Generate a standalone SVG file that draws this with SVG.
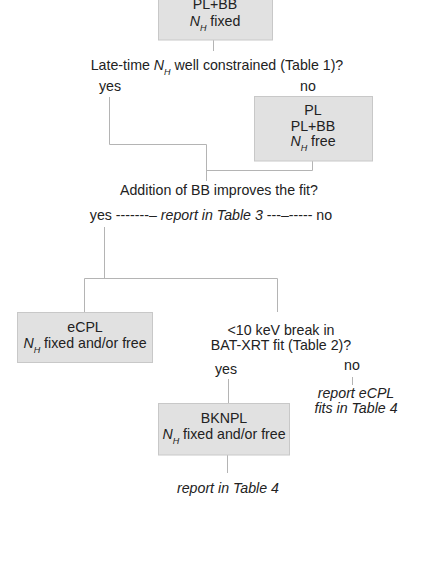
<svg xmlns="http://www.w3.org/2000/svg" width="436" height="564" viewBox="0 0 436 564">
<style>
text{font-family:"Liberation Sans",Arial,sans-serif;font-size:14.2px;fill:#222;text-anchor:middle}
.i{font-style:italic}
.s{font-size:9px;font-style:italic}
.box{fill:#e1e1e1;stroke:#c8c8c8;stroke-width:1}
.ln{fill:none;stroke:#b4b4b4;stroke-width:1}
</style>
<rect width="436" height="564" fill="#fff"/>
<g id="connectors">
<path class="ln" d="M213.5 40V51"/>
<path class="ln" d="M109.5 97V144.5H206.5V181"/>
<path class="ln" d="M312.5 161V170.5H206.5"/>
<path class="ln" d="M104.5 227V278.5"/>
<path class="ln" d="M84.5 312V278.5H277.5V312"/>
<path class="ln" d="M228.5 379V403"/>
<path class="ln" d="M352.5 377V385"/>
<path class="ln" d="M227.5 455V473"/>
</g>
<g id="top">
<rect class="box" x="158.5" y="-10.5" width="114" height="50.5"/>
<text x="215" y="9">PL+BB</text>
<text x="215" y="26"><tspan class="i">N</tspan><tspan class="s" dy="4.5">H</tspan><tspan dy="-4.5"> fixed</tspan></text>
</g>
<g id="q1">
<text x="217" y="70">Late-time <tspan class="i">N</tspan><tspan class="s" dy="4.5">H</tspan><tspan dy="-4.5"> well constrained (Table 1)?</tspan></text>
<text x="110" y="91">yes</text>
<text x="308" y="91">no</text>
</g>
<g id="pl">
<rect class="box" x="254.5" y="96.5" width="118" height="64.5"/>
<text x="313" y="115">PL</text>
<text x="313" y="131">PL+BB</text>
<text x="313" y="146"><tspan class="i">N</tspan><tspan class="s" dy="4.5">H</tspan><tspan dy="-4.5"> free</tspan></text>
</g>
<g id="q2">
<text x="219" y="195">Addition of BB improves the fit?</text>
<text x="211" y="220">yes -------– <tspan class="i">report in Table 3</tspan> ---–----- no</text>
</g>
<g id="ecpl">
<rect class="box" x="17.5" y="312.5" width="135" height="50"/>
<text x="85" y="332">eCPL</text>
<text x="85" y="348"><tspan class="i">N</tspan><tspan class="s" dy="4.5">H</tspan><tspan dy="-4.5"> fixed and/or free</tspan></text>
</g>
<g id="q3">
<text x="281" y="335">&lt;10 keV break in</text>
<text x="281" y="350">BAT-XRT fit (Table 2)?</text>
<text x="226" y="374">yes</text>
<text x="352" y="370">no</text>
<text class="i" x="356" y="398">report eCPL</text>
<text class="i" x="356" y="413">fits in Table 4</text>
</g>
<g id="bknpl">
<rect class="box" x="158.5" y="403.5" width="131" height="51.5"/>
<text x="224" y="423">BKNPL</text>
<text x="224" y="439"><tspan class="i">N</tspan><tspan class="s" dy="4.5">H</tspan><tspan dy="-4.5"> fixed and/or free</tspan></text>
<text class="i" x="228" y="493">report in Table 4</text>
</g>
</svg>
